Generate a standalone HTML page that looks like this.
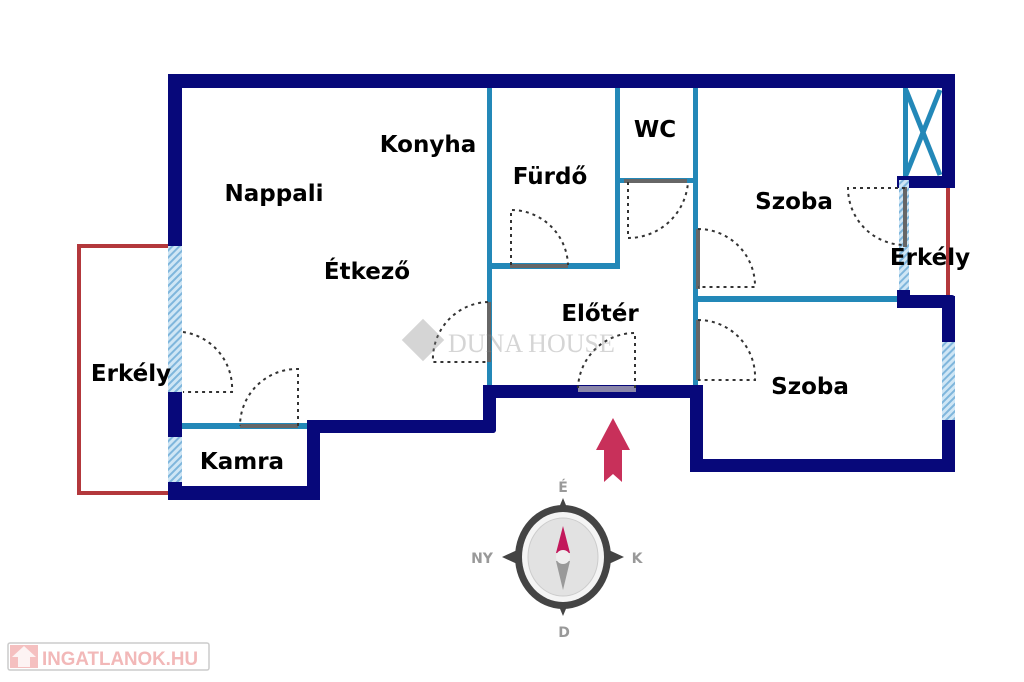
<!DOCTYPE html>
<html><head><meta charset="utf-8"><style>
html,body{margin:0;padding:0;background:#fff;}
svg{display:block;}
text{font-family:"DejaVu Sans","Liberation Sans",sans-serif;font-weight:bold;}
</style></head><body>
<svg width="1024" height="682" viewBox="0 0 1024 682" xmlns="http://www.w3.org/2000/svg">
<defs>
<pattern id="h" width="5" height="5" patternUnits="userSpaceOnUse" patternTransform="rotate(45)">
<rect width="5" height="5" fill="#cfe6f5"/><rect width="2" height="5" fill="#7fb6dc"/></pattern>
</defs>
<rect x="79" y="246" width="92" height="247" fill="none" stroke="#b3383c" stroke-width="4"/>
<g fill="#2388b8">
<rect x="487" y="86" width="5" height="300"/>
<rect x="487" y="263" width="133" height="6"/>
<rect x="615" y="86" width="5" height="183"/>
<rect x="620" y="178" width="75" height="5"/>
<rect x="693" y="86" width="5" height="300"/>
<rect x="698" y="296" width="202" height="6"/>
<rect x="180" y="423" width="130" height="6"/>
<rect x="903" y="86" width="5" height="92"/>
</g>
<g stroke="#2388b8" stroke-width="5"><line x1="906" y1="90" x2="940" y2="175"/><line x1="940" y1="90" x2="906" y2="175"/></g>
<g fill="#07087a">
<rect x="168" y="74" width="787" height="14" rx="3"/>
<rect x="168" y="74" width="14" height="172"/>
<rect x="168" y="392" width="14" height="45"/>
<rect x="168" y="482" width="14" height="18"/>
<rect x="168" y="486" width="152" height="14"/>
<rect x="307" y="420" width="13" height="80"/>
<rect x="307" y="420" width="189" height="13" rx="3"/>
<rect x="483" y="385" width="13" height="48" rx="3"/>
<rect x="483" y="385" width="220" height="13"/>
<rect x="690" y="385" width="13" height="87"/>
<rect x="690" y="459" width="265" height="13"/>
<rect x="942" y="420" width="13" height="52"/>
<rect x="942" y="296" width="13" height="46"/>
<rect x="897" y="295" width="58" height="13" rx="3"/>
<rect x="897" y="290" width="13" height="18"/>
<rect x="942" y="74" width="13" height="114"/>
<rect x="897" y="176" width="58" height="12"/>
</g>
<rect x="946" y="188" width="4" height="107" fill="#b3383c"/>
<rect x="168" y="246" width="14" height="146" fill="url(#h)"/>
<rect x="168" y="437" width="14" height="45" fill="url(#h)"/>
<rect x="899" y="180" width="10" height="110" fill="url(#h)"/>
<rect x="942" y="342" width="13" height="78" fill="url(#h)"/>
<g fill="#666"><rect x="510" y="264" width="58" height="4"/><rect x="624" y="179" width="63" height="4"/><rect x="696" y="229" width="4" height="60"/><rect x="696" y="320" width="4" height="60"/><rect x="903" y="187" width="4" height="60"/><rect x="487" y="302" width="4" height="60"/><rect x="240" y="424" width="58" height="4"/><rect x="578" y="386" width="58" height="6" fill="#8a86a8"/></g>
<g fill="none" stroke="#333" stroke-width="2" stroke-dasharray="3,4">
<path d="M511 265 V210 A57 57 0 0 1 568 265"/>
<path d="M628 182 V238 A60 60 0 0 0 688 182"/>
<path d="M698 229 A57 57 0 0 1 755 287 H698"/>
<path d="M698 320 A57 57 0 0 1 755 380 H698"/>
<path d="M905 188 H848 A57 57 0 0 0 905 245"/>
<path d="M488 302 A57 57 0 0 0 433 362 H488"/>
<path d="M183 332 A57 57 0 0 1 232 392 H183"/>
<path d="M298 426 V369 A57 57 0 0 0 240 426"/>
<path d="M635 388 V333 A57 57 0 0 0 578 388"/>
</g>
<g opacity="0.35"><rect x="408" y="325" width="30" height="30" transform="rotate(45 423 340)" fill="#888"/>
<text x="448" y="352" font-size="26" fill="#888" style="font-family:'Liberation Serif',serif;font-weight:normal">DUNA HOUSE</text></g>
<g font-size="23" fill="#000">
<text x="428" y="152" text-anchor="middle">Konyha</text>
<text x="274" y="201" text-anchor="middle">Nappali</text>
<text x="367" y="279" text-anchor="middle">Étkező</text>
<text x="550" y="184" text-anchor="middle">Fürdő</text>
<text x="655" y="137" text-anchor="middle">WC</text>
<text x="794" y="209" text-anchor="middle">Szoba</text>
<text x="930" y="265" text-anchor="middle">Erkély</text>
<text x="600" y="321" text-anchor="middle">Előtér</text>
<text x="810" y="394" text-anchor="middle">Szoba</text>
<text x="131" y="381" text-anchor="middle">Erkély</text>
<text x="242" y="469" text-anchor="middle">Kamra</text>
</g>
<polygon points="613,418 630,450 622,450 622,482 613,474 604,482 604,450 596,450" fill="#c8305a"/>
<g>
<polygon points="563,498 573,522 553,522" fill="#444"/>
<polygon points="563,616 573,592 553,592" fill="#444"/>
<polygon points="502,557 526,546 526,568" fill="#444"/>
<polygon points="624,557 600,546 600,568" fill="#444"/>
<ellipse cx="563" cy="557" rx="48" ry="52" fill="#444"/>
<ellipse cx="563" cy="557" rx="41" ry="45" fill="#f4f4f4"/>
<ellipse cx="563" cy="557" rx="35" ry="39" fill="#e2e2e2" stroke="#ccc" stroke-width="1"/>
<polygon points="563,526 570,553 556,553" fill="#c2185b"/>
<polygon points="563,590 570,561 556,561" fill="#999"/>
<circle cx="563" cy="557" r="7" fill="#eee"/>
<g font-size="14" fill="#999" text-anchor="middle">
<text x="563" y="492">É</text><text x="482" y="563">NY</text><text x="637" y="563">K</text><text x="564" y="637">D</text></g>
</g>
<rect x="8" y="643" width="201" height="27" fill="#fff" stroke="#ccc" stroke-width="1.5" rx="2"/>
<rect x="10" y="645" width="28" height="23" fill="#f5c0c0"/>
<polygon points="12,657 24,646 36,657" fill="#fff" opacity="0.8"/>
<rect x="18" y="657" width="12" height="10" fill="#fff" opacity="0.8"/>
<text x="42" y="665" font-size="19" fill="#f2b8b8" style="font-family:'Liberation Sans',sans-serif" textLength="156" lengthAdjust="spacingAndGlyphs">INGATLANOK.HU</text>
</svg>
</body></html>
